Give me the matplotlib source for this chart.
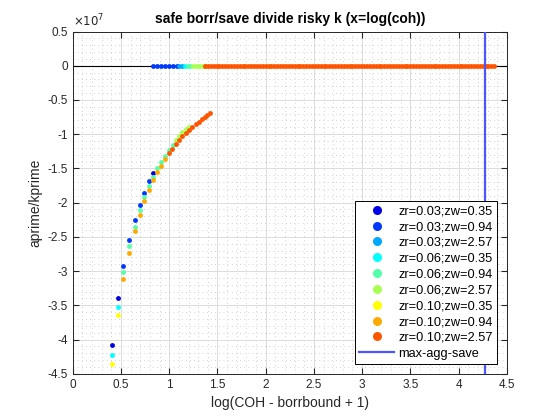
import matplotlib
matplotlib.use("Agg")
import matplotlib.pyplot as plt
from matplotlib.lines import Line2D
from matplotlib.ticker import MultipleLocator, FuncFormatter

plt.rcParams['font.family'] = ['Liberation Sans', 'DejaVu Sans']

# -----------------------------
# Data (y in units of 1e7)
# -----------------------------
labels = ["zr=0.03;zw=0.35", "zr=0.03;zw=0.94", "zr=0.03;zw=2.57",
          "zr=0.06;zw=0.35", "zr=0.06;zw=0.94", "zr=0.06;zw=2.57",
          "zr=0.10;zw=0.35", "zr=0.10;zw=0.94", "zr=0.10;zw=2.57"]
colors = ["#0000E8", "#0038FF", "#00A8FF",
          "#00FFFF", "#55FFAA", "#AAFF55",
          "#FFFF00", "#FFAA00", "#FF5500"]

# borrowing branch (negative)
neg_x = [
    [0.410, 0.472, 0.835],
    [0.524, 0.586, 0.645, 0.694, 0.741, 0.787],
    [],
    [0.406, 0.472],
    [0.524, 0.586, 0.645, 0.694, 0.741, 0.787, 0.835, 0.876, 0.918, 0.959, 1.001, 1.039],
    [1.070, 1.104, 1.137, 1.170, 1.203],
    [0.410, 0.472],
    [0.524, 0.586, 0.645, 0.694, 0.741, 0.787, 0.835, 0.876, 0.918, 0.959],
    [0.998, 1.029, 1.067, 1.101, 1.135, 1.171, 1.205, 1.239, 1.274, 1.305, 1.337, 1.368, 1.395, 1.423],
]
neg_y = [
    [-4.08, -3.40, -1.57],
    [-2.92, -2.55, -2.26, -2.04, -1.86, -1.69],
    [],
    [-4.23, -3.52],
    [-3.02, -2.63, -2.35, -2.11, -1.92, -1.76, -1.62, -1.50, -1.41, -1.315, -1.23, -1.16],
    [-1.085, -1.027, -0.975, -0.93, -0.89],
    [-4.36, -3.64],
    [-3.12, -2.73, -2.42, -2.18, -1.98, -1.81, -1.67, -1.55, -1.47, -1.36],
    [-1.280, -1.212, -1.144, -1.081, -1.027, -0.983, -0.939, -0.895, -0.856, -0.818, -0.783, -0.754, -0.725, -0.695],
]

# saving branch (zero)
zero_x = [
    [],
    [0.835, 0.876, 0.915, 0.956, 0.997, 1.036, 1.077],
    [1.100, 1.130],
    [1.160],
    [1.190, 1.220],
    [1.250, 1.280, 1.310, 1.340],
    [],
    [1.370],
    [1.37, 1.40, 1.43, 1.46, 1.49, 1.52, 1.55, 1.58, 1.61, 1.64,
     1.67, 1.70, 1.73, 1.76, 1.79, 1.82, 1.85, 1.88, 1.91, 1.94,
     1.97, 2.00, 2.03, 2.06, 2.09, 2.12, 2.15, 2.18, 2.21, 2.24,
     2.27, 2.30, 2.33, 2.36, 2.39, 2.42, 2.45, 2.48, 2.51, 2.54,
     2.57, 2.60, 2.63, 2.66, 2.69, 2.72, 2.75, 2.78, 2.81, 2.84,
     2.87, 2.90, 2.93, 2.96, 2.99, 3.02, 3.05, 3.08, 3.11, 3.14,
     3.17, 3.20, 3.23, 3.26, 3.29, 3.32, 3.35, 3.38, 3.41, 3.44,
     3.47, 3.50, 3.53, 3.56, 3.59, 3.62, 3.65, 3.68, 3.71, 3.74,
     3.77, 3.80, 3.83, 3.86, 3.89, 3.92, 3.95, 3.98, 4.01, 4.04,
     4.07, 4.10, 4.13, 4.16, 4.19, 4.22, 4.25, 4.28, 4.31, 4.34,
     4.37],
]

max_agg_save = 4.27

# -----------------------------
# Plot
# -----------------------------
fig = plt.figure(figsize=(5.6, 4.2), dpi=100)
ax = fig.add_axes([0.13, 0.11, 0.775, 0.815])

ax.axhline(0, color="black", lw=0.8, zorder=2)

for i in range(len(labels)):
    xs = neg_x[i] + zero_x[i]
    ys = neg_y[i] + [0.0] * len(zero_x[i])
    ax.plot(xs, ys, linestyle="none", marker="o", ms=3.5, mfc=colors[i],
            mec="none", zorder=3)

ax.axvline(max_agg_save, color="#4D55FF", lw=1.6, zorder=4)

ax.set_xlim(0, 4.5)
ax.set_ylim(-4.5, 0.5)
ax.xaxis.set_major_locator(MultipleLocator(0.5))
ax.yaxis.set_major_locator(MultipleLocator(0.5))
ax.xaxis.set_minor_locator(MultipleLocator(0.1))
ax.yaxis.set_minor_locator(MultipleLocator(0.1))
ax.xaxis.set_major_formatter(FuncFormatter(lambda v, p: f"{v:g}"))
ax.yaxis.set_major_formatter(FuncFormatter(lambda v, p: f"{v:g}"))

ax.grid(which="major", color="#DCDCDC", lw=0.7, zorder=0)
ax.grid(which="minor", color="#C4C4C4", lw=0.6, linestyle=(0, (1, 4)), zorder=0)
ax.set_axisbelow(True)

ax.tick_params(which="both", direction="in", top=True, right=True,
               colors="#262626", labelsize=8.5)
ax.tick_params(which="major", length=4)
ax.tick_params(which="minor", length=0)
for s in ax.spines.values():
    s.set_color("#262626")
    s.set_linewidth(0.7)

ax.text(0.0, 1.005, r"$\times10^{7}$", transform=ax.transAxes, fontsize=8.5,
        color="#262626", ha="left", va="bottom")

ax.set_title("safe borr/save divide risky k (x=log(coh))", fontsize=10,
             fontweight="bold", pad=6)
ax.set_xlabel("log(COH - borrbound + 1)", fontsize=10, color="#262626")
ax.set_ylabel("aprime/kprime", fontsize=10, color="#262626")

handles = [Line2D([], [], linestyle="none", marker="o", ms=6.5, mfc=c, mec="none")
           for c in colors]
handles.append(Line2D([], [], color="#4D55FF", lw=1.6))
leg = ax.legend(handles, labels + ["max-agg-save"], loc="lower right",
                fontsize=9.2, frameon=True, fancybox=False, borderaxespad=0.8,
                handlelength=2.8, labelspacing=0.3, borderpad=0.3,
                handletextpad=0.3)
leg.get_frame().set_edgecolor("black")
leg.get_frame().set_linewidth(0.7)
leg.get_frame().set_alpha(1)

fig.savefig("out.png", dpi=100)
